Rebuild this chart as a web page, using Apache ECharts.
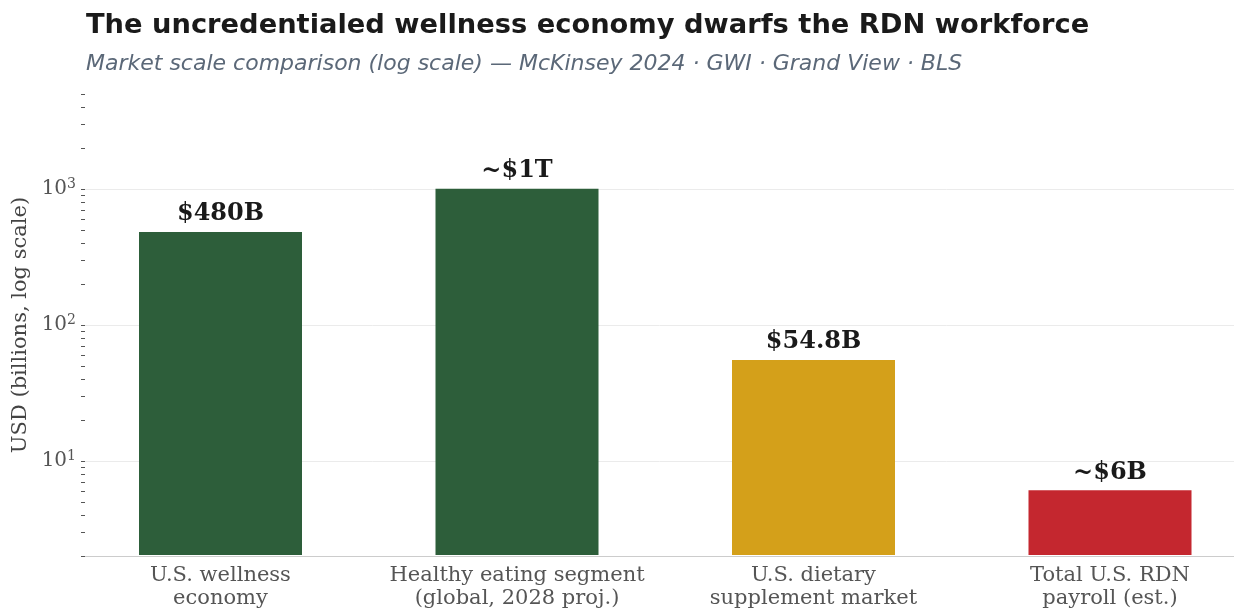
<!DOCTYPE html>
<html>
<head>
<meta charset="utf-8">
<script src="https://cdn.jsdelivr.net/npm/echarts@6/dist/echarts.min.js"></script>
<style>
  html, body { margin: 0; padding: 0; background: #fff; }
  #chart { width: 1234px; height: 610px; }
</style>
</head>
<body>
<div id="chart"></div>
<script>
  const categories = [
    'U.S. wellness\neconomy',
    'Healthy eating segment\n(global, 2028 proj.)',
    'U.S. dietary\nsupplement market',
    'Total U.S. RDN\npayroll (est.)'
  ];
  const values = [480, 1000, 54.8, 6];
  const valueLabels = ['$480B', '~$1T', '$54.8B', '~$6B'];
  const barColors = ['#2d5e3a', '#2d5e3a', '#d4a01a', '#c4272f'];
  const majorTicks = [10, 100, 1000];
  const minorTicks = [2, 3, 4, 5, 6, 7, 8, 9, 10, 20, 30, 40, 50, 60, 70, 80, 90,
    100, 200, 300, 400, 500, 600, 700, 800, 900, 1000, 2000, 3000, 4000, 5000];

  const serif = '"DejaVu Serif", serif';
  const sans = '"DejaVu Sans", sans-serif';
  const yMin = 2, yMax = 5000;

  const chart = echarts.init(document.getElementById('chart'));

  chart.setOption({
    animation: false,
    title: [
      {
        text: 'The uncredentialed wellness economy dwarfs the RDN workforce',
        left: 81, top: 7,
        textStyle: { fontFamily: sans, fontSize: 27.3, fontWeight: 'bold', color: '#1a1a1a' }
      },
      {
        text: 'Market scale comparison (log scale) — McKinsey 2024 · GWI · Grand View · BLS',
        left: 81, top: 48,
        textStyle: { fontFamily: sans, fontSize: 22, fontStyle: 'italic', fontWeight: 'normal', color: '#5b6878' }
      }
    ],
    grid: [
      { left: 85, right: 0, top: 94, bottom: 54 },
      { left: 220.5, width: 889.5, top: 94, bottom: 54 }
    ],
    xAxis: [
      {
        type: 'category', gridIndex: 0, data: [''],
        axisLine: { show: true, lineStyle: { color: '#cccccc', width: 1.2 } },
        axisTick: { show: false }, axisLabel: { show: false }
      },
      {
        type: 'category', gridIndex: 1, data: categories, boundaryGap: false,
        axisLine: { show: false }, axisTick: { show: false },
        axisLabel: {
          fontFamily: serif, fontSize: 21, color: '#555555',
          lineHeight: 23, margin: 9, interval: 0
        }
      }
    ],
    yAxis: [
      {
        type: 'log', logBase: 10, gridIndex: 0, min: yMin, max: yMax,
        name: 'USD (billions, log scale)', nameLocation: 'middle', nameGap: 53,
        nameTextStyle: { fontFamily: serif, fontSize: 21, color: '#444444' },
        axisLine: { show: false },
        axisTick: { show: true, length: 4, customValues: minorTicks, lineStyle: { color: '#555555', width: 1 } },
        axisLabel: {
          customValues: majorTicks, margin: 9,
          fontFamily: serif, fontSize: 20, color: '#555555',
          formatter: v => '10{sup|' + Math.round(Math.log10(v)) + '}',
          rich: { sup: { fontFamily: serif, fontSize: 14, color: '#555555', verticalAlign: 'top', padding: [0, 0, 10, 0] } }
        },
        splitLine: { show: false }
      },
      {
        type: 'log', logBase: 10, gridIndex: 1, min: yMin, max: yMax,
        axisLine: { show: false }, axisTick: { show: false }, axisLabel: { show: false },
        splitLine: { show: false }
      }
    ],
    series: [
      {
        type: 'line', xAxisIndex: 0, yAxisIndex: 0, data: [], silent: true, z: 0,
        markLine: {
          symbol: 'none', silent: true, label: { show: false }, z: 0,
          lineStyle: { color: '#ebebeb', width: 1, type: 'solid' },
          data: majorTicks.map(v => ({ yAxis: v }))
        }
      },
      {
        type: 'bar', xAxisIndex: 1, yAxisIndex: 1, barWidth: 163, z: 5,
        data: values.map((v, i) => ({
          value: v,
          itemStyle: { color: barColors[i] }
        })),
        label: {
          show: true, position: 'top', distance: 6,
          fontFamily: serif, fontSize: 24, fontWeight: 'bold', color: '#1a1a1a',
          formatter: p => valueLabels[p.dataIndex]
        }
      }
    ]
  });
</script>
</body>
</html>
